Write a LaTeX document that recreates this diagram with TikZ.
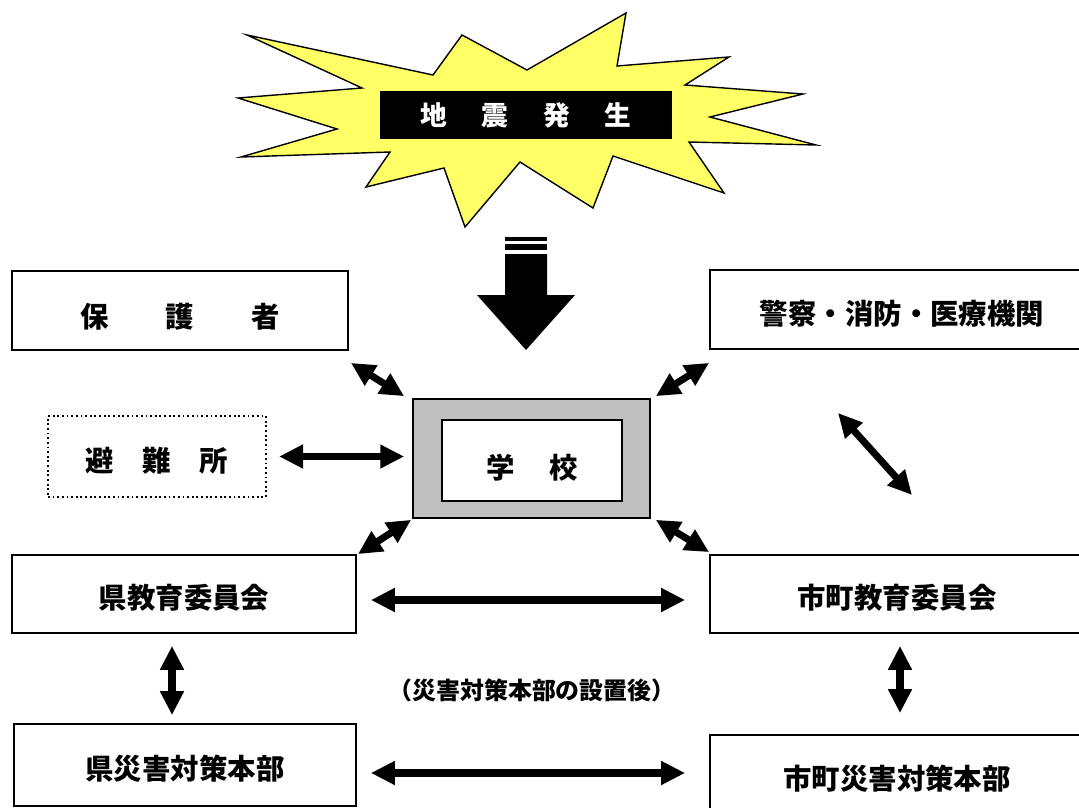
\documentclass[tikz,border=0pt]{standalone}
\usepackage{fontspec}
\newfontfamily\jpfont{Noto Sans CJK JP}
\usetikzlibrary{arrows.meta}

\newdimen\pxu
\pxu=0.025cm

\tikzset{
  box/.style={draw, line width=1.3pt, fill=white, inner sep=0pt,
    text height=22pt, text depth=0pt,
    font=\jpfont\bfseries\fontsize{20.2}{22}\selectfont},
  dbl/.style={arrows={Triangle[length=17pt, width=16pt]-Triangle[length=17pt, width=16pt]}, line width=5pt},
}

\begin{document}
\begin{tikzpicture}[x={(0.025cm,0)}, y={(0,-0.025cm)}]
    \useasboundingbox (0,0) rectangle (1079,808);
    % Starburst
    \draw[line width=1pt, fill={rgb,255:red,255;green,255;blue,102}]
      (247,35) -- (433,75) -- (462,35) -- (527,70) -- (626,13) -- (617,66)
      -- (729,57) -- (685,85) -- (803,94) -- (710,117) -- (816,145) -- (689,142)
      -- (724,193) -- (613,156) -- (593,208) -- (520,162) -- (465,227) -- (444,168)
      -- (366,187) -- (390,152) -- (241,157) -- (337,129) -- (238,98) -- (362,88) -- cycle;
    \node[fill=black, text=white, minimum width=292*\pxu, minimum height=47*\pxu, inner sep=0pt,
      font=\jpfont\bfseries\fontsize{19}{22}\selectfont] (quake) at (526,115)
      {地\hspace{1.3em}震\hspace{1.3em}発\hspace{1.3em}生};
    % Big arrow
    \fill (505,237) rectangle (547,241);
    \fill (505,244) rectangle (547,250);
    \fill (505,254) -- (547,254) -- (547,295) -- (575,295) -- (526,350)
      -- (477,295) -- (505,295) -- cycle;
    % School
    \node[draw, line width=1.2pt, fill={rgb,255:red,192;green,192;blue,192},
      minimum width=237*\pxu, minimum height=119*\pxu] (school) at (531.5,458.5) {};
    \node[box, line width=1.2pt, text height=26pt, minimum width=180*\pxu, minimum height=81*\pxu]
      (gakko) at (532,460.5) {学\hspace{1.2em}校};
    % Boxes
    \node[box, text height=23.5pt, minimum width=336*\pxu, minimum height=79*\pxu] (hogo) at (180,310.5)
      {保\hspace{2em}護\hspace{2em}者};
    \node[box, minimum width=384*\pxu, minimum height=79*\pxu] (police) at (902,309.5)
      {警察・消防・医療機関};
    \node[box, dotted, line width=1.6pt, minimum width=218*\pxu, minimum height=81*\pxu] (hinan) at (157,456.5)
      {避\hspace{1em}難\hspace{1em}所};
    \node[box, text height=21pt, minimum width=344*\pxu, minimum height=78*\pxu] (kenkyo) at (184,594)
      {県教育委員会};
    \node[box, text height=21pt, minimum width=374*\pxu, minimum height=78*\pxu] (shikyo) at (897,594)
      {市町教育委員会};
    \node[box, text height=20pt, minimum width=342*\pxu, minimum height=82*\pxu] (kensai) at (185,765)
      {県災害対策本部};
    \node[box, text height=20pt, minimum width=374*\pxu, minimum height=80*\pxu] (shisai) at (897,775)
      {市町災害対策本部};
    \node[font=\jpfont\bfseries\fontsize{17}{20}\selectfont] (note) at (532,690)
      {（災害対策本部の設置後）};
    % Connectors
    \coordinate (p1) at (838,413);
    \coordinate (p2) at (912,495);
    \draw[dbl] ([shift={(2,12)}]hogo.south east) -- ([shift={(-8,-2)}]school.north west);
    \draw[dbl] ([shift={(0,13)}]police.south west) -- ([shift={(5,-2)}]school.north east);
    \draw[dbl] ([shift={(12,0)}]hinan.east) -- ([shift={(-8,-2)}]school.west);
    \draw[dbl] (p1) -- (p2);
    \draw[dbl] ([shift={(-1,1)}]school.south west) -- ([shift={(1,0)}]kenkyo.north east);
    \draw[dbl] ([shift={(5,1)}]school.south east) -- ([shift={(0,-2)}]shikyo.north west);
    \draw[dbl] ([shift={(14,6)}]kenkyo.east) -- ([shift={(-24,6)}]shikyo.west);
    \draw[dbl] ([shift={(-12,12)}]kenkyo.south) -- ([shift={(-13,-8)}]kensai.north);
    \draw[dbl] ([shift={(3,12)}]shikyo.south) -- ([shift={(3,-21)}]shisai.north);
    \draw[dbl] ([shift={(14,8)}]kensai.east) -- ([shift={(-24,-2)}]shisai.west);
\end{tikzpicture}
\end{document}
